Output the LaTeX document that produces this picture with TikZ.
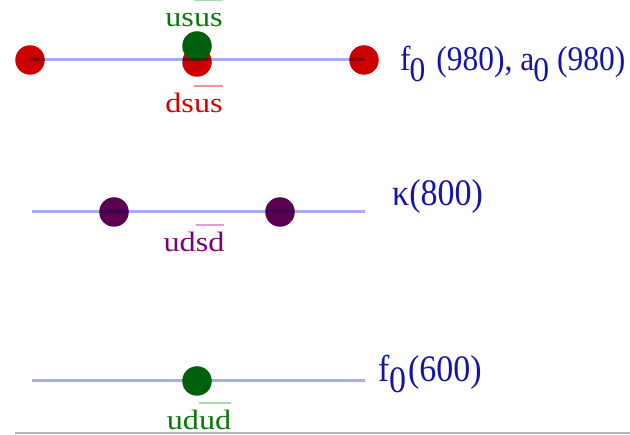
\documentclass[tikz,border=0pt]{standalone}
\usepackage{fontspec}
\setmainfont{Liberation Serif}
\usepackage{graphicx}

% colours
\definecolor{dotred}{RGB}{204,0,0}
\definecolor{dotgreen}{RGB}{0,95,10}
\definecolor{dotpurple}{RGB}{90,0,80}
\definecolor{txtred}{RGB}{215,0,0}
\definecolor{txtgreen}{RGB}{10,120,10}
\definecolor{txtpurple}{RGB}{125,0,120}
\definecolor{barred}{RGB}{240,150,150}
\definecolor{bargreen}{RGB}{165,220,165}
\definecolor{barpurple}{RGB}{220,160,220}
\definecolor{massblue}{RGB}{20,20,170}
\definecolor{levelline}{RGB}{170,170,240}

% antiquark letters: coloured bar over the argument
\newcommand{\antiq}[2]{{\setbox0\hbox{#2}\rlap{\color{#1}\rule[0.93em]{\wd0}{1.8pt}}\box0}}
% quark content label, widened letters
\newcommand{\qlabel}[1]{\scalebox{1.15}[1]{\fontsize{28}{32}\selectfont #1}}
% state name, slightly tall letters
\newcommand{\mlabel}[2]{\scalebox{1}[1.1]{\fontsize{#1}{#1}\selectfont #2}}
% lowered subscript zero
\newcommand{\subz}{\raisebox{-10pt}{0}}

\tikzset{
  dot/.style={circle, fill=#1, draw=none, minimum size=29.5pt, inner sep=0pt},
  level/.style={draw=levelline, line width=3pt, blend mode=multiply},
  quark/.style={anchor=base, inner sep=0pt},
  mass/.style={anchor=base west, inner sep=0pt, text=massblue},
}

\begin{document}
\begin{tikzpicture}[x=1pt, y=-1pt]
\useasboundingbox (0,0) rectangle (630,435);

% ---- f0(980), a0(980) ----
\node[dot=dotred] (r1) at (30,60) {};
\node[dot=dotred] (r2) at (197,62) {};
\node[dot=dotred] (r3) at (364,60) {};
\node[dot=dotgreen] (g1) at (197,46) {};
\coordinate (l1a) at (30,60);
\coordinate (l1b) at (364,60);
\draw[level] (l1a) -- (l1b);
\node[quark, text=txtgreen] (q1) at (194,27) {\qlabel{us\antiq{bargreen}{us}}};
\node[quark, text=txtred] (q2) at (194,113) {\qlabel{ds\antiq{barred}{us}}};
\node[mass] (m1) at (400,71) {\mlabel{31.5}{%
  f\kern-1pt\subz\kern11pt(980), a\kern-1pt\subz\kern8pt(980)}};

% ---- kappa(800) ----
\coordinate (l2a) at (32,212);
\coordinate (l2b) at (365,212);
\node[dot=dotpurple] (p1) at (114,212) {};
\node[dot=dotpurple] (p2) at (280,212) {};
\draw[level] (l2a) -- (l2b);
\node[quark, text=txtpurple] (q3) at (194,252) {\qlabel{ud\antiq{barpurple}{sd}}};
\node[mass] (m2) at (392,206) {\mlabel{34}{κ(800)}};

% ---- f0(600) ----
\coordinate (l3a) at (32,381);
\coordinate (l3b) at (365,381);
\draw[level] (l3a) -- (l3b);
\node[dot=dotgreen] (g2) at (197,381) {};
\node[quark, text=txtgreen] (q4) at (199,430) {\qlabel{ud\antiq{bargreen}{ud}}};
\node[mass] (m3) at (378,382) {\mlabel{34}{f\kern-0.5pt\subz\kern2pt(600)}};

% ---- base line ----
\coordinate (ba) at (15,433);
\coordinate (bb) at (630,433);
\draw[line width=1.5pt, draw={rgb,255:red,180;green,180;blue,180}] (ba) -- (bb);
\end{tikzpicture}
\end{document}
